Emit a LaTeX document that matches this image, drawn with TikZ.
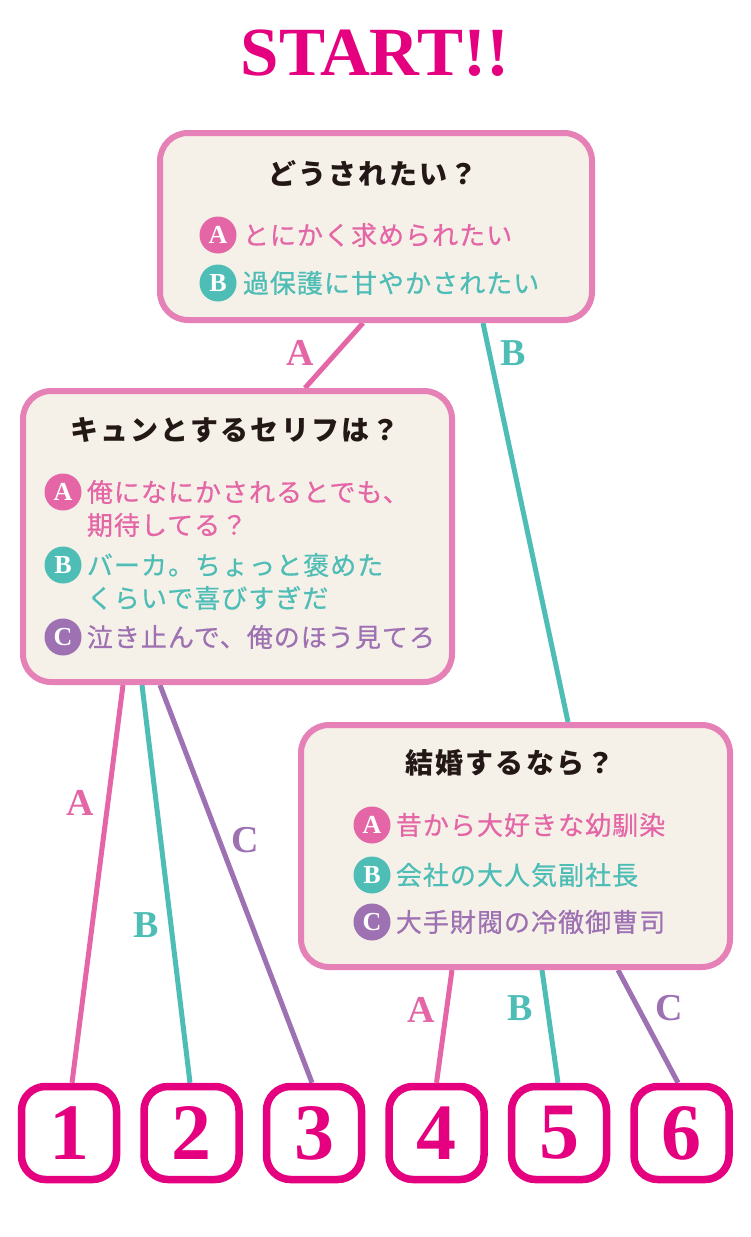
\documentclass[tikz,border=0pt]{standalone}
\usepackage{fontspec}
\setmainfont{Liberation Serif}[BoldFont={Liberation Serif Bold}]
\newfontfamily\jpfont{Noto Sans CJK JP}[LetterSpace=4, FakeBold=0.6]
\newfontfamily\jptitle{Noto Sans CJK JP}[LetterSpace=8]
\usetikzlibrary{positioning,backgrounds}

\definecolor{numcol}{HTML}{E4007F}
\definecolor{boxline}{HTML}{E681B7}
\definecolor{boxfill}{HTML}{F5F1E8}
\definecolor{colA}{HTML}{E466A6}
\definecolor{colB}{HTML}{4DBDB6}
\definecolor{colC}{HTML}{9E71B3}
\definecolor{titlecol}{HTML}{231815}

\begin{document}
\begin{tikzpicture}[x=1pt, y=-1pt,
	qbox/.style={draw=boxline, fill=boxfill, line width=6pt, rounded corners=28pt},
	numbox/.style={draw=numcol, fill=white, line width=7.5pt, rounded corners=24pt,
		minimum width=95pt, minimum height=93pt, inner sep=0pt, text=numcol,
		font={\bfseries\fontsize{80}{80}\selectfont}},
	qtitle/.style={text=titlecol, inner sep=0pt, font={\jptitle\bfseries\fontsize{28}{32}\selectfont}},
	ball/.style={circle, minimum size=37pt, inner sep=0pt, text=white,
		font={\bfseries\fontsize{26}{26}\selectfont}},
	opttext/.style={anchor=west, inner sep=0pt, align=left, font={\jpfont\fontsize{26}{33}\selectfont}},
	brlab/.style={font={\bfseries\fontsize{38}{38}\selectfont}},
	conn/.style={line width=5pt}]
	\useasboundingbox (0,0) rectangle (750,1237);
	\node[text=numcol, font={\bfseries\fontsize{69}{69}\selectfont}] (start) at (375,53) {START!!};

	% questions
	\node[qbox, minimum width=432pt, minimum height=187pt] (q1) at (376,226.5) {};
	\node[qbox, minimum width=429pt, minimum height=291pt] (q2) at (237.5,536.5) {};
	\node[qbox, minimum width=429pt, minimum height=242pt] (q3) at (515.5,846) {};

	\node[qtitle] (t1) at (373,173) {どうされたい？};
	\node[ball, fill=colA] (b1a) at (218,235) {A};
	\node[opttext, text=colA, right=6pt of b1a] (o1a) {とにかく求められたい};
	\node[ball, fill=colB] (b1b) at (218,283) {B};
	\node[opttext, text=colB, right=6pt of b1b] (o1b) {過保護に甘やかされたい};

	\node[qtitle] (t2) at (235,430) {キュンとするセリフは？};
	\node[ball, fill=colA] (b2a) at (63,492) {A};
	\node[opttext, text=colA, right=5pt of b2a, yshift=-16.5pt] (o2a) {俺になにかされるとでも、\\期待してる？};
	\node[ball, fill=colB] (b2b) at (63,565) {B};
	\node[opttext, text=colB, right=5pt of b2b, yshift=-16.5pt] (o2b) {バーカ。ちょっと褒めた\\くらいで喜びすぎだ};
	\node[ball, fill=colC] (b2c) at (63,637) {C};
	\node[opttext, text=colC, right=5pt of b2c] (o2c) {泣き止んで、俺のほう見てろ};

	\node[qtitle] (t3) at (510,763) {結婚するなら？};
	\node[ball, fill=colA] (b3a) at (372,825) {A};
	\node[opttext, text=colA, right=5pt of b3a] (o3a) {昔から大好きな幼馴染};
	\node[ball, fill=colB] (b3b) at (372,875) {B};
	\node[opttext, text=colB, right=5pt of b3b] (o3b) {会社の大人気副社長};
	\node[ball, fill=colC] (b3c) at (372,922) {C};
	\node[opttext, text=colC, right=5pt of b3c] (o3c) {大手財閥の冷徹御曹司};

	% results
	\foreach \n/\x in {1/69,2/191.5,3/314,4/436.5,5/559,6/681.5}
		\node[numbox] (r\n) at (\x,1133) {\n};

	% branch labels
	\node[brlab, text=colA] (lA1) at (300,353) {A};
	\node[brlab, text=colB] (lB1) at (513,353) {B};
	\node[brlab, text=colA] (lA2) at (80,803) {A};
	\node[brlab, text=colB] (lB2) at (146,925) {B};
	\node[brlab, text=colC] (lC2) at (245,840) {C};
	\node[brlab, text=colA] (lA3) at (421,1010) {A};
	\node[brlab, text=colB] (lB3) at (520,1008) {B};
	\node[brlab, text=colC] (lC3) at (669,1008) {C};

	\begin{scope}[on background layer]
		\fill[white] (0,0) rectangle (750,1237);
		\draw[conn, colA] ([xshift=-13pt]q1.south) -- ([xshift=67.5pt]q2.north);
		\draw[conn, colB] ([xshift=107pt]q1.south) -- ([xshift=52.5pt]q3.north);
		\draw[conn, colA] ([xshift=-114.5pt]q2.south) -- ([xshift=3pt]r1.north);
		\draw[conn, colB] ([xshift=-95.5pt]q2.south) -- ([xshift=-1.5pt]r2.north);
		\draw[conn, colC] ([xshift=-77.5pt]q2.south) -- ([xshift=-2pt]r3.north);
		\draw[conn, colA] ([xshift=-63.5pt]q3.south) -- ([xshift=0pt]r4.north);
		\draw[conn, colB] ([xshift=26.5pt]q3.south) -- ([xshift=-1pt]r5.north);
		\draw[conn, colC] ([xshift=102.5pt]q3.south) -- ([xshift=-3.5pt]r6.north);
	\end{scope}
\end{tikzpicture}
\end{document}
